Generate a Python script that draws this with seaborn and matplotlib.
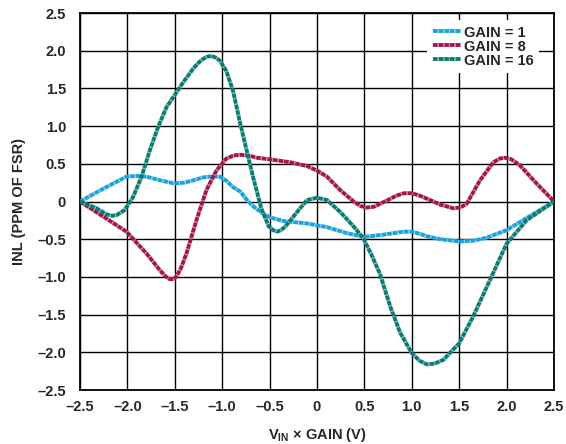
import matplotlib
matplotlib.use("Agg")
import matplotlib.pyplot as plt
import seaborn as sns
import pandas as pd

# ---- data ----
x_g1 = [-2.5, -2.254, -2.009, -1.9, -1.798, -1.65, -1.507, -1.4, -1.307, -1.2, -1.132,
        -1.026, -0.95, -0.886, -0.807, -0.746, -0.667, -0.58, -0.5, -0.35, -0.105, 0.105,
        0.316, 0.5, 0.7, 0.91, 1.0, 1.088, 1.158, 1.3, 1.5, 1.65, 1.79, 2.0, 2.21, 2.5]
y_g1 = [0.0, 0.17, 0.33, 0.34, 0.33, 0.28, 0.24, 0.25, 0.28, 0.32, 0.33,
        0.33, 0.27, 0.19, 0.13, 0.03, -0.07, -0.15, -0.21, -0.26, -0.29, -0.34,
        -0.42, -0.47, -0.44, -0.40, -0.40, -0.43, -0.46, -0.50, -0.53, -0.52, -0.48, -0.38, -0.22, 0.0]

x_g8 = [-2.5, -2.254, -2.009, -1.798, -1.658, -1.6, -1.553, -1.51, -1.482, -1.44, -1.377,
        -1.272, -1.167, -1.061, -0.956, -0.88, -0.816, -0.72, -0.632, -0.5, -0.28, -0.105,
        0.0, 0.105, 0.246, 0.386, 0.46, 0.526, 0.6, 0.667, 0.842, 0.92, 1.0, 1.08, 1.193,
        1.298, 1.439, 1.51, 1.579, 1.719, 1.86, 1.93, 1.982, 2.05, 2.14, 2.316, 2.5]
y_g8 = [0.0, -0.20, -0.40, -0.69, -0.91, -0.99, -1.03, -1.03, -0.99, -0.90, -0.69,
        -0.25, 0.15, 0.41, 0.57, 0.61, 0.62, 0.61, 0.58, 0.56, 0.52, 0.47,
        0.41, 0.33, 0.15, 0.0, -0.06, -0.08, -0.07, -0.03, 0.08, 0.11, 0.11, 0.08, 0.02,
        -0.04, -0.09, -0.08, -0.03, 0.28, 0.52, 0.57, 0.58, 0.56, 0.48, 0.24, 0.0]

x_g16 = [-2.5, -2.325, -2.22, -2.16, -2.114, -2.026, -1.94, -1.85, -1.763, -1.675, -1.588,
         -1.507, -1.412, -1.307, -1.25, -1.202, -1.16, -1.114, -1.07, -1.026, -0.956,
         -0.886, -0.816, -0.746, -0.675, -0.588, -0.509, -0.46, -0.42, -0.38, -0.333,
         -0.21, -0.105, 0.0, 0.105, 0.246, 0.386, 0.49, 0.58, 0.667, 0.772, 0.877, 1.0,
         1.08, 1.158, 1.24, 1.333, 1.5, 1.649, 1.825, 2.0, 2.21, 2.5]
y_g16 = [0.0, -0.09, -0.17, -0.19, -0.18, -0.11, 0.06, 0.33, 0.68, 0.99, 1.25,
         1.40, 1.58, 1.76, 1.84, 1.89, 1.92, 1.93, 1.91, 1.87, 1.73,
         1.47, 1.07, 0.70, 0.33, -0.09, -0.33, -0.38, -0.40, -0.38, -0.33,
         -0.14, 0.02, 0.05, 0.02, -0.14, -0.33, -0.49, -0.72, -0.97, -1.39, -1.74, -2.01,
         -2.11, -2.16, -2.15, -2.10, -1.88, -1.52, -1.04, -0.56, -0.25, 0.0]

labels = ["GAIN = 1", "GAIN = 8", "GAIN = 16"]
colors = ["#1BA3DB", "#A3174D", "#0B7B73"]
gap_colors = ["#8FD0EE", "#D68AA6", "#7FBDB8"]
ticks = [-2.5, -2.0, -1.5, -1.0, -0.5, 0, 0.5, 1.0, 1.5, 2.0, 2.5]
tick_labels = ["–2.5", "–2.0", "–1.5", "–1.0", "–0.5", "0", "0.5", "1.0", "1.5", "2.0", "2.5"]

df = pd.concat([
    pd.DataFrame({"x": x_g1, "y": y_g1, "gain": labels[0]}),
    pd.DataFrame({"x": x_g8, "y": y_g8, "gain": labels[1]}),
    pd.DataFrame({"x": x_g16, "y": y_g16, "gain": labels[2]}),
], ignore_index=True)

sns.set_style("white")
plt.rcParams["font.family"] = ["Liberation Sans", "DejaVu Sans"]
plt.rcParams["font.weight"] = "bold"
plt.rcParams["mathtext.fontset"] = "custom"
plt.rcParams["mathtext.rm"] = "Liberation Sans:bold"
plt.rcParams["mathtext.bf"] = "Liberation Sans:bold"
plt.rcParams["mathtext.it"] = "Liberation Sans:bold"

fig = plt.figure(figsize=(5.66, 4.44), dpi=100)
ax = fig.add_axes([0.1413, 0.1216, 0.8375, 0.8491])

sns.lineplot(data=df, x="x", y="y", hue="gain", hue_order=labels,
             palette=dict(zip(labels, colors)), linewidth=2.8, sort=False,
             estimator=None, ax=ax, legend=False)
for ln, gc in zip(ax.lines, gap_colors):
    ln.set_linestyle((0, (1.2, 0.25)))
    ln.set_gapcolor(gc)
    ln.set_solid_joinstyle("round")
    ln.set_dash_joinstyle("round")
    ln.set_zorder(3)

ax.set_xlim(-2.5, 2.5)
ax.set_ylim(-2.5, 2.5)
ax.set_xticks(ticks)
ax.set_xticklabels(tick_labels)
ax.set_yticks(ticks)
ax.set_yticklabels(tick_labels)
ax.tick_params(axis="x", length=0, labelsize=10.5, pad=7)
ax.tick_params(axis="y", length=0, labelsize=10.5, pad=10)
for lab in ax.get_xticklabels() + ax.get_yticklabels():
    lab.set_fontweight("bold")
ax.grid(True, color="black", linewidth=1.0)
ax.set_axisbelow(True)
for sp in ax.spines.values():
    sp.set_color("black")
    sp.set_linewidth(1.3)

ax.set_xlabel(r"V$_{\mathrm{IN}}$ × GAIN (V)", fontsize=10.5, fontweight="bold", labelpad=9)
ax.set_ylabel("INL (PPM OF FSR)", fontsize=10.5, fontweight="bold", labelpad=8)

leg = ax.legend(ax.lines[:3], labels, loc="upper right", bbox_to_anchor=(0.975, 0.99),
                frameon=True, fancybox=False, framealpha=1, edgecolor="none",
                facecolor="white", fontsize=10.5, handlelength=1.9, handletextpad=0.2,
                labelspacing=0.0, borderpad=0.4, borderaxespad=0.2)
for t in leg.get_texts():
    t.set_fontweight("bold")
leg.set_zorder(5)

fig.savefig("out.png", dpi=100)
